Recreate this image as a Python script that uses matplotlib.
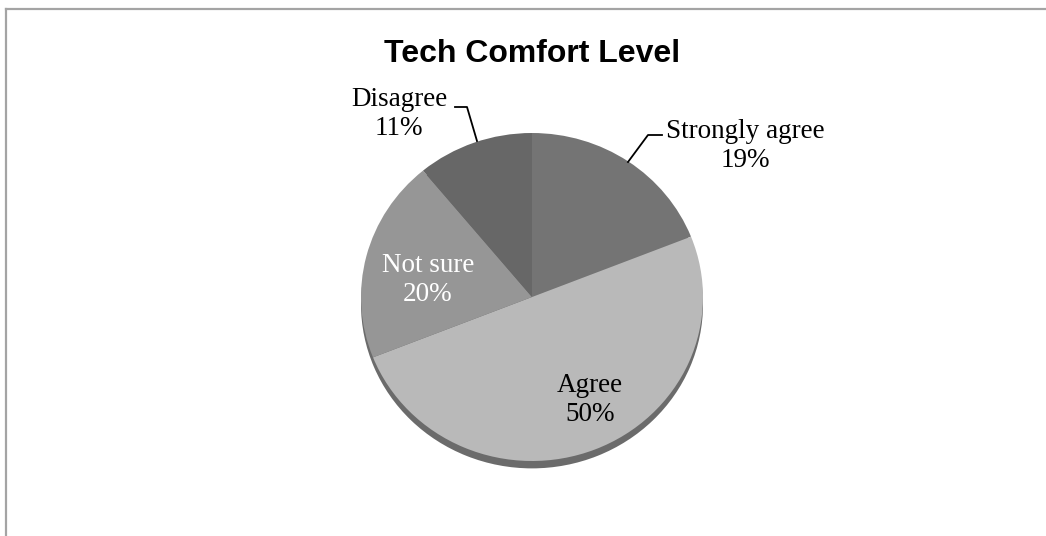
import matplotlib
import numpy as np

matplotlib.use("Agg")
import matplotlib.pyplot as plt
from matplotlib.lines import Line2D

W, H = 1046, 536

categories = ["Strongly agree", "Agree", "Not sure", "Disagree"]
shares = [19, 50, 20, 11]
colors = ["#747474", "#b9b9b9", "#969696", "#676767"]
text_colors = ["black", "black", "white", "black"]


def px(x, y):
    """pixel position (from top-left) -> figure fraction"""
    return x / W, 1 - y / H


fig = plt.figure(figsize=(W / 100, H / 100), dpi=100)
fig.patch.set_facecolor("white")

# chart frame: only top and left edges show
fig.add_artist(Line2D([6 / W, 6 / W], [0, 1 - 9 / H], transform=fig.transFigure,
                      color="#a4a4a4", lw=1.6))
fig.add_artist(Line2D([6 / W, 1], [1 - 9 / H, 1 - 9 / H], transform=fig.transFigure,
                      color="#a4a4a4", lw=1.6))

fig.text(*px(532, 54), "Tech Comfort Level", ha="center", va="center",
         family="Liberation Sans", weight="bold", fontsize=23)

# pie axes: slightly squashed vertically for the tilted look
cx, cy, rx, ry = 532, 297, 171, 164
ax = fig.add_axes([(cx - rx) / W, (H - cy - ry) / H, 2 * rx / W, 2 * ry / H])

# darker rim underneath
ax.pie([1], colors=["#6b6b6b"], radius=1.0, center=(0, -0.045),
       wedgeprops=dict(linewidth=0))
wedges, _ = ax.pie(shares, colors=colors, startangle=90, counterclock=False,
                   radius=1.0, wedgeprops=dict(linewidth=0))
ax.set_aspect("auto")
ax.set_xlim(-1, 1)
ax.set_ylim(-1, 1)
ax.axis("off")

serif = dict(family="Liberation Serif", fontsize=19.5, ha="center", va="center",
             linespacing=1.25)

label_pos = [(745, 146), (590, 400), (428, 280), (399, 114)]
for name, val, (lx, ly), tc in zip(categories, shares, label_pos, text_colors):
    fig.text(*px(lx, ly), f"{name}\n{val}%", color=tc, **serif)

# leader lines for the outside labels
leaders = [
    [(628, 162), (648, 135), (662, 135)],
    [(455, 107), (467, 107), (477, 141)],
]
for pts in leaders:
    xs = [p[0] / W for p in pts]
    ys = [1 - p[1] / H for p in pts]
    fig.add_artist(Line2D(xs, ys, transform=fig.transFigure, color="black", lw=1.3))

fig.savefig("out.png", dpi=100)
